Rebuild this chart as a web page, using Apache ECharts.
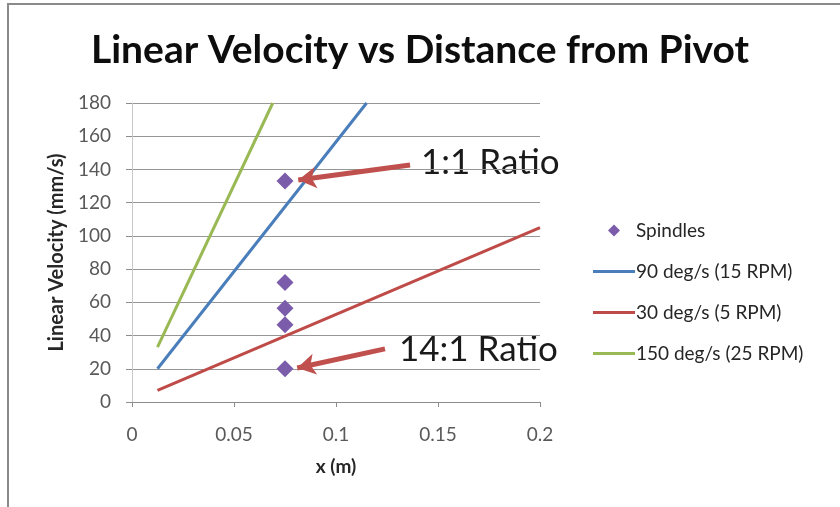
<!DOCTYPE html>
<html><head><meta charset="utf-8">
<script src="https://cdn.jsdelivr.net/npm/echarts@6/dist/echarts.min.js"></script>
<style>html,body{margin:0;padding:0;background:#fff}#c{width:840px;height:507px}</style>
</head><body><div id="c"></div>
<script>
var spindleX = [0.075, 0.075, 0.075, 0.075, 0.075];
var spindleY = [133, 72, 56.5, 46.5, 20];
var line90X = [0.0125, 0.115];
var line90Y = [20, 180];
var line30X = [0.0125, 0.2];
var line30Y = [7, 105];
var line150X = [0.0125, 0.069];
var line150Y = [33, 180];
var xTicks = [0, 0.05, 0.1, 0.15, 0.2];
var yTicks = [0, 20, 40, 60, 80, 100, 120, 140, 160, 180];
var arrow1 = [[0.1363, 142.7], [0.0815, 133.6]];
var arrow2 = [[0.124, 32], [0.081, 20.5]];

function pairs(xs, ys) { return xs.map(function (x, i) { return [x, ys[i]]; }); }

var FONT = 'Lato, "Open Sans", sans-serif';
var LINE_ICON = 'path://M0,0L42,0L42,3L0,3Z';
var DIAMOND_ICON = 'path://M5,0L10,5L5,10L0,5Z';
var chart = echarts.init(document.getElementById('c'));
chart.setOption({
  backgroundColor: '#fff',
  animation: false,
  textStyle: { fontFamily: FONT },
  title: {
    text: 'Linear Velocity vs Distance from Pivot',
    left: 'center', top: 26,
    textStyle: { fontSize: 39, fontWeight: 'bold', color: '#0d0d0d', fontFamily: FONT }
  },
  grid: { left: 132, right: 300, top: 103, bottom: 105, containLabel: false },
  xAxis: {
    type: 'value', min: 0, max: 0.2, interval: 0.05,
    name: 'x (m)', nameLocation: 'middle', nameGap: 55,
    nameTextStyle: { fontSize: 19, fontWeight: 'bold', color: '#262626' },
    axisLine: { show: true, onZero: false, lineStyle: { color: '#8c8c8c', width: 1 } },
    axisTick: { show: true, length: 5, inside: false, lineStyle: { color: '#8c8c8c' } },
    axisLabel: { fontSize: 19, color: '#595959', margin: 23,
      formatter: function (v) { return String(+v.toFixed(2)); } },
    splitLine: { show: false }
  },
  yAxis: {
    type: 'value', min: 0, max: 180, interval: 20,
    name: 'Linear Velocity (mm/s)', nameLocation: 'middle', nameGap: 65, nameRotate: 90,
    nameTextStyle: { fontSize: 20, fontWeight: 'bold', color: '#262626' },
    axisLine: { show: true, lineStyle: { color: '#c8c8c8', width: 1 } },
    axisTick: { show: true, length: 6, lineStyle: { color: '#8c8c8c' } },
    axisLabel: { fontSize: 19, color: '#595959', margin: 21 },
    splitLine: { show: true, lineStyle: { color: '#969696', width: 1 } }
  },
  legend: {
    orient: 'vertical', left: 588, top: 216, itemGap: 22,
    itemWidth: 42, itemHeight: 12,
    textStyle: { fontSize: 19, color: '#262626', padding: [0, 0, 0, -4] },
    data: [
      { name: 'Spindles', icon: DIAMOND_ICON },
      { name: '90 deg/s (15 RPM)', icon: LINE_ICON },
      { name: '30 deg/s (5 RPM)', icon: LINE_ICON },
      { name: '150 deg/s (25 RPM)', icon: LINE_ICON }
    ]
  },
  series: [
    { name: '90 deg/s (15 RPM)', type: 'line', data: pairs(line90X, line90Y),
      symbol: 'none', lineStyle: { color: '#4a7ebb', width: 3 }, itemStyle: { color: '#4a7ebb' } },
    { name: '30 deg/s (5 RPM)', type: 'line', data: pairs(line30X, line30Y),
      symbol: 'none', lineStyle: { color: '#be4b48', width: 3 }, itemStyle: { color: '#be4b48' } },
    { name: '150 deg/s (25 RPM)', type: 'line', data: pairs(line150X, line150Y),
      symbol: 'none', lineStyle: { color: '#98b954', width: 3 }, itemStyle: { color: '#98b954' } },
    { name: 'Spindles', type: 'scatter', data: pairs(spindleX, spindleY),
      symbol: 'diamond', symbolSize: [17, 17], itemStyle: { color: '#7b5cab', opacity: 1 }, z: 5 },
    { name: 'arrows', type: 'line', data: [], z: 6,
      markLine: {
        silent: true, animation: false,
        symbol: ['none', 'arrow'], symbolSize: [16, 18],
        label: { show: false },
        lineStyle: { color: '#c0504d', width: 5, type: 'solid' },
        data: [
          [{ coord: arrow1[0] }, { coord: arrow1[1] }],
          [{ coord: arrow2[0] }, { coord: arrow2[1] }]
        ]
      }
    }
  ],
  graphic: [
    { type: 'rect', shape: { x: 8, y: 4, width: 840, height: 510 }, silent: true,
      style: { fill: 'none', stroke: '#8a8a8a', lineWidth: 2 } },
    { type: 'text', left: 421, top: 145, silent: true,
      style: { text: '1:1 Ratio', fontSize: 35, fill: '#1a1a1a', fontFamily: FONT } },
    { type: 'text', left: 399, top: 332, silent: true,
      style: { text: '14:1 Ratio', fontSize: 35, fill: '#1a1a1a', fontFamily: FONT } }
  ]
});
</script></body></html>
